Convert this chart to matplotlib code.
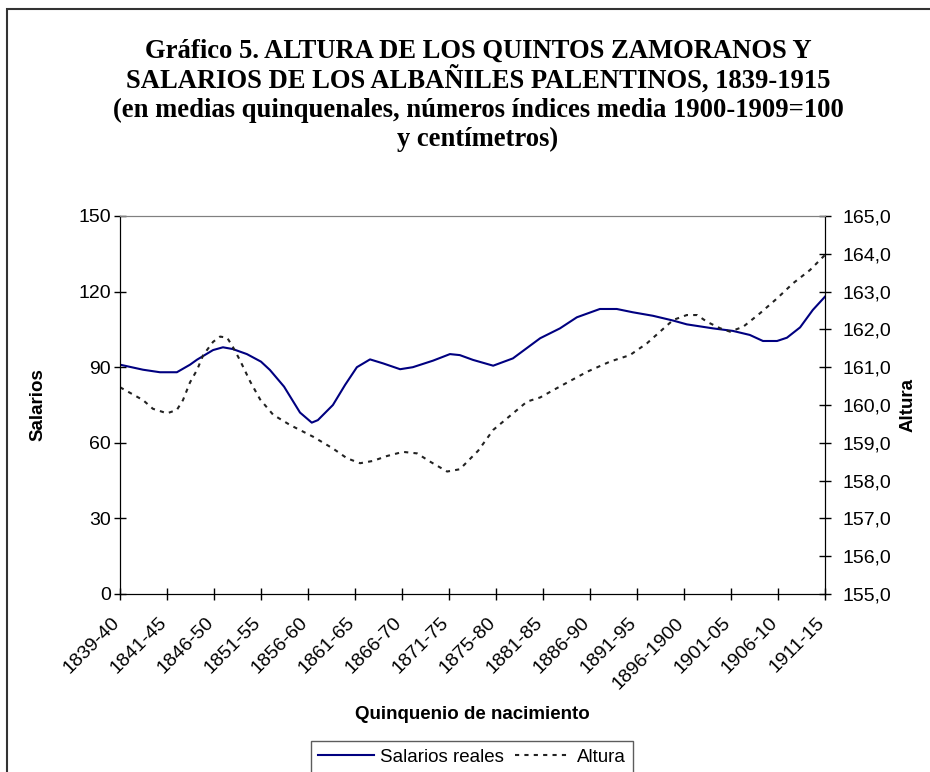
import numpy as np
import matplotlib.pyplot as plt
from matplotlib.patches import Rectangle
from matplotlib.ticker import FuncFormatter
from matplotlib.transforms import ScaledTranslation

# quinquenio labels, one per category tick
quinquenios = ["1839-40", "1841-45", "1846-50", "1851-55", "1856-60", "1861-65",
               "1866-70", "1871-75", "1875-80", "1881-85", "1886-90", "1891-95",
               "1896-1900", "1901-05", "1906-10", "1911-15"]

# salarios reales (index 1900-1909=100), read at fractional category positions
pos_sal = [0.0, 0.49, 0.85, 1.21, 1.49, 1.64, 1.98, 2.19, 2.40, 2.70, 3.00, 3.19,
           3.49, 3.83, 4.08, 4.21, 4.53, 4.79, 5.04, 5.32, 5.60, 5.96, 6.23, 6.66,
           7.02, 7.23, 7.51, 7.94, 8.36, 8.94, 9.36, 9.72, 10.21, 10.57, 10.91,
           11.34, 11.77, 12.06, 12.62, 13.04, 13.40, 13.68, 13.98, 14.19, 14.47,
           14.74, 15.0]
salarios = [91, 89, 88, 88, 91, 93, 96.8, 97.9, 97.2, 95.2, 92.2, 88.9,
            82.3, 72, 68, 69, 75, 83, 90, 93.1, 91.5, 89.2, 90, 92.6,
            95.2, 94.8, 92.9, 90.6, 93.5, 101.5, 105.4, 109.8, 113.1, 113.1, 111.8,
            110.4, 108.5, 107, 105.4, 104.4, 102.8, 100.4, 100.4, 101.7, 105.8,
            112.7, 118]

# altura de los quintos (cm)
pos_alt = [0.0, 0.49, 0.70, 1.0, 1.21, 1.34, 1.49, 1.64, 1.77, 1.98, 2.13, 2.28,
           2.40, 2.55, 2.77, 2.98, 3.26, 3.62, 4.11, 4.53, 4.83, 5.11, 5.38, 5.68,
           6.02, 6.32, 6.60, 6.96, 7.23, 7.62, 7.94, 8.66, 8.94, 9.36, 9.94, 10.43,
           10.85, 11.21, 11.49, 11.77, 12.06, 12.28, 12.49, 12.77, 12.98, 13.26,
           13.62, 13.98, 14.32, 14.68, 15.0]
altura = [160.47, 160.13, 159.9, 159.78, 159.87, 160.13, 160.6, 160.93, 161.32,
          161.67, 161.81, 161.78, 161.54, 161.19, 160.62, 160.15, 159.74, 159.47,
          159.16, 158.85, 158.59, 158.46, 158.52, 158.65, 158.76, 158.72, 158.5,
          158.24, 158.3, 158.79, 159.34, 160.09, 160.2, 160.49, 160.88, 161.15,
          161.32, 161.63, 161.94, 162.25, 162.38, 162.38, 162.2, 162.03, 161.94,
          162.07, 162.43, 162.82, 163.22, 163.57, 163.97]

title_lines = ["Gráfico 5. ALTURA DE LOS QUINTOS ZAMORANOS Y",
               "SALARIOS DE LOS ALBAÑILES PALENTINOS, 1839-1915",
               "(en medias quinquenales, números índices media 1900-1909=100",
               "y centímetros)"]

plt.rcParams['font.family'] = ['Liberation Sans', 'DejaVu Sans']

W, H = 930, 772
fig = plt.figure(figsize=(W / 100, H / 100), dpi=100)

# outer chart frame (cut at right/bottom as in the original)
fig.patches.append(Rectangle((7 / W, -0.1), 1.2, 1.1 - 9 / H, fill=False,
                             lw=1.5, edgecolor='#333333', transform=fig.transFigure))

for k, line in enumerate(title_lines):
    fig.text(478 / W, 1 - (58 + 29.5 * k) / H, line, ha='center', va='baseline',
             family='Liberation Serif', weight='bold', fontsize=19.2)

ax = fig.add_axes([120 / W, 1 - 594 / H, 705 / W, 378 / H])
ax2 = ax.twinx()

x = np.arange(len(quinquenios))
l1, = ax.plot(pos_sal, salarios, color='#000080', lw=1.5, label='Salarios reales',
              solid_joinstyle='round')
l2, = ax2.plot(pos_alt, altura, color='#222222', lw=1.5, linestyle=(0, (2, 2.5)),
               label='Altura')

ax.set_xlim(0, 15)
ax.set_ylim(0, 150)
ax.set_yticks(np.arange(0, 151, 30))
ax2.set_ylim(155, 165)
ax2.set_yticks(np.arange(155, 166, 1))
ax2.yaxis.set_major_formatter(FuncFormatter(lambda v, p: f"{v:.1f}".replace('.', ',')))

ax.set_xticks(x)
ax.set_xticklabels(quinquenios, rotation=45, ha='right', va='center',
                   rotation_mode='anchor')

for a in (ax, ax2):
    a.tick_params(direction='inout', length=8, width=1, labelsize=14, colors='black')
    a.spines['top'].set_color('#808080')
    for s in ('left', 'right', 'bottom'):
        a.spines[s].set_color('black')
ax.tick_params(axis='x', pad=15)
ax.tick_params(axis='y', pad=2.5)
ax2.tick_params(axis='y', pad=8.5)

shift = ScaledTranslation(-0.03, 0, fig.dpi_scale_trans)
for lab in ax.get_xticklabels():
    lab.set_transform(lab.get_transform() + shift)

ax.set_ylabel('Salarios', fontsize=13.5, weight='bold', labelpad=23)
ax2.set_ylabel('Altura', fontsize=13.5, weight='bold', labelpad=6)
ax.set_xlabel('Quinquenio de nacimiento', fontsize=13.5, weight='bold', labelpad=10)

leg = fig.legend(handles=[l1, l2], loc='upper center', ncol=2,
                 bbox_to_anchor=(472 / W, 1 - 741 / H), fontsize=13.5,
                 frameon=True, fancybox=False, edgecolor='#333333',
                 handlelength=3.0, handletextpad=0.3, columnspacing=0.6,
                 borderpad=0.4, borderaxespad=0)
leg.get_frame().set_linewidth(1.0)

fig.savefig('out.png', dpi=100)
